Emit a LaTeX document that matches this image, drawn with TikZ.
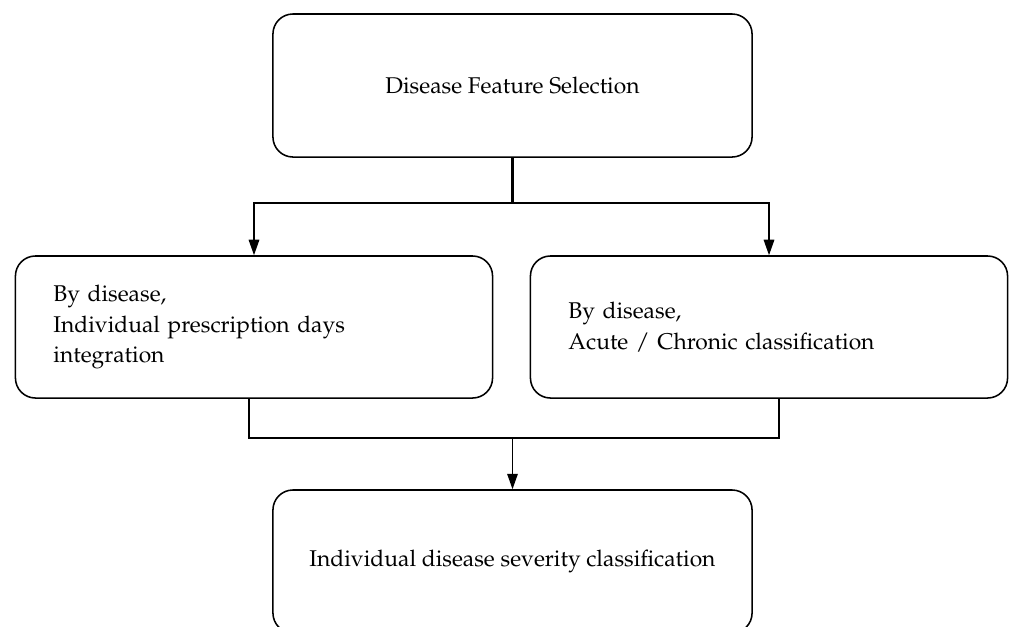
\documentclass[tikz,border=0pt]{standalone}
\usepackage[T1]{fontenc}
\usepackage{mathpazo}
\usetikzlibrary{arrows.meta}
\begin{document}
\begin{tikzpicture}[x=0.025cm,y=-0.025cm,
  font=\fontsize{16.2}{21.6}\selectfont,
  box/.style={draw, line width=1.1pt, rounded corners=0.5cm, minimum height=3.575cm},
  cbox/.style={box, minimum width=11.975cm, align=center},
  lbox/.style={box, align=left, inner xsep=0.95cm, text width=10.025cm},
  conn/.style={line width=1pt},
  arr/.style={conn, -{Triangle[length=11pt,width=7.5pt]}}]
\useasboundingbox (0,0) rectangle (1010,626);
\clip (0,0) rectangle (1010,626);
\node[cbox] (top) at (512.5,85.5) {Disease Feature Selection};
\node[lbox, minimum height=3.55cm] (left) at (254,327) {By disease,\\Individual prescription days\\integration};
\node[lbox, minimum height=3.55cm] (right) at (769,327) {By disease,\\Acute / Chronic classification};
\node[cbox] (bottom) at (512.5,561.5) {Individual disease severity classification};
\coordinate (j1) at (512.5,203);
\draw[line width=1.5pt] (top.south) -- (j1);
\draw[arr] (j1) -| (left.north);
\draw[arr] (j1) -| (right.north);
\coordinate (lb) at (249,438);
\coordinate (rb) at (779,438);
\draw[conn] (left.south -| lb) -- (lb) -- (rb) -- (right.south -| rb);
\draw[arr] (lb -| bottom.north) -- (bottom.north);
\end{tikzpicture}
\end{document}
